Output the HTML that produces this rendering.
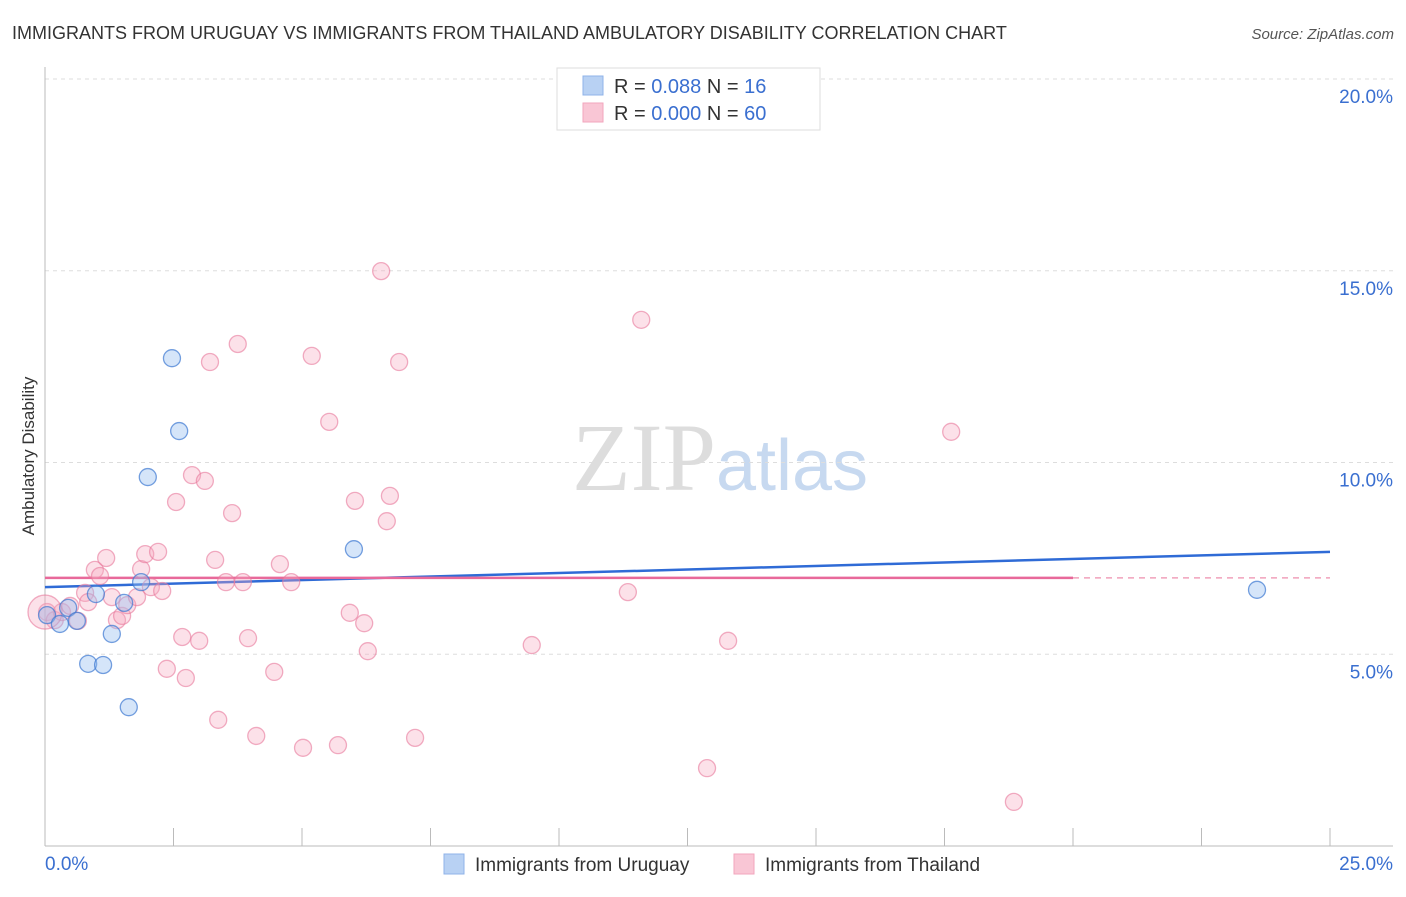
<!DOCTYPE html>
<html><head><meta charset="utf-8"><style>
body{margin:0;background:#fff;font-family:"Liberation Sans",sans-serif}
</style></head><body>
<svg id="chart" width="1406" height="892" xmlns="http://www.w3.org/2000/svg" font-family="Liberation Sans, sans-serif">
<text x="12" y="39" font-size="18" fill="#333">IMMIGRANTS FROM URUGUAY VS IMMIGRANTS FROM THAILAND AMBULATORY DISABILITY CORRELATION CHART</text>
<text x="1394" y="39" font-size="15" fill="#555" font-style="italic" text-anchor="end">Source: ZipAtlas.com</text>
<text transform="translate(34,456) rotate(-90)" font-size="17" fill="#333" text-anchor="middle">Ambulatory Disability</text>
<text x="720" y="490" font-size="96" text-anchor="middle"><tspan fill="#ddd" font-family="Liberation Serif, serif">ZIP</tspan><tspan fill="#c7d9f0" font-size="72">atlas</tspan></text>
<g id="grid"></g><g id="axes"></g><g id="lines"></g><g id="points"></g>
<g>
<rect x="557" y="68" width="263" height="62" fill="#fff" stroke="#ddd"/>
<rect x="583" y="76" width="20" height="19" fill="#b8d1f3" stroke="#8fb3e8"/>
<rect x="583" y="103" width="20" height="19" fill="#f9c6d5" stroke="#f2a6bd"/>
<text x="614" y="93" font-size="20" fill="#333">R = <tspan fill="#3a6fd0"> 0.088</tspan>   N = <tspan fill="#3a6fd0"> 16</tspan></text>
<text x="614" y="120" font-size="20" fill="#333">R = <tspan fill="#3a6fd0">0.000</tspan>   N = <tspan fill="#3a6fd0">60</tspan></text>
</g>
<g>
<rect x="444" y="854" width="20" height="20" fill="#b8d1f3" stroke="#8fb3e8"/>
<text x="475" y="871" font-size="19" fill="#333">Immigrants from Uruguay</text>
<rect x="734" y="854" width="20" height="20" fill="#f9c6d5" stroke="#f2a6bd"/>
<text x="765" y="871" font-size="19" fill="#333">Immigrants from Thailand</text>
</g>
</svg>
<script>
const yTicks=[5,10,15,20];
const yTickLabels=["5.0%","10.0%","15.0%","20.0%"];
const xTicks=[0,2.5,5,7.5,10,12.5,15,17.5,20,22.5,25];
const uruguayX=[0.04,0.29,0.45,0.62,0.99,1.30,0.84,1.13,1.63,1.54,1.87,2.47,2.61,2.00,6.01,23.58];
const uruguayY=[6.02,5.79,6.21,5.87,6.57,5.53,4.75,4.72,3.62,6.34,6.88,12.72,10.82,9.62,7.74,6.68];
const thailandX=[0.04,0.19,0.33,0.49,0.64,0.78,0.84,0.97,1.07,1.19,1.30,1.40,1.50,1.60,1.79,1.87,1.95,2.06,2.20,2.28,2.37,2.55,2.74,2.67,2.86,3.00,3.11,3.31,3.37,3.52,3.64,3.75,3.85,3.95,4.11,4.46,4.57,4.79,5.02,5.19,5.53,5.70,5.93,6.03,6.21,6.28,6.54,6.65,6.71,6.89,7.20,3.21,9.47,11.34,11.60,12.88,13.29,17.63,18.85,0.0];
const thailandY=[6.10,5.89,6.10,6.26,5.87,6.60,6.36,7.20,7.04,7.51,6.49,5.89,6.00,6.28,6.49,7.22,7.61,6.75,7.67,6.65,4.62,8.97,4.38,5.45,9.67,5.35,9.52,7.46,3.29,6.88,8.68,13.09,6.88,5.42,2.87,4.54,7.35,6.88,2.56,12.78,11.06,2.63,6.08,9.00,5.81,5.08,14.99,8.47,9.13,12.62,2.82,12.62,5.24,6.62,13.72,2.03,5.35,10.80,1.15,6.10];
const uruguayTrend=[6.75,7.67];
const thailandTrend=[6.99,6.99];
const xs=v=>45+v*51.4, ys=v=>846-v*38.35;
const NS="http://www.w3.org/2000/svg";
function mk(tag,attrs,parent){const e=document.createElementNS(NS,tag);for(const k in attrs)e.setAttribute(k,attrs[k]);document.getElementById(parent).appendChild(e);return e;}
yTicks.forEach((t,i)=>{
 const l=mk('line',{x1:45,x2:1393,y1:ys(t),y2:ys(t),stroke:'#ddd','stroke-dasharray':'4,4'},'grid');
 
 
 const tx=mk('text',{x:1393,y:ys(t)+24,'font-size':19,fill:'#3a6fd0','text-anchor':'end'},'grid');
 tx.textContent=yTickLabels[i];
 
 
});
const ax=mk('line',{x1:45,x2:45,y1:67,y2:846,stroke:'#bbb'},'axes');


const bx=mk('line',{x1:45,x2:1393,y1:846,y2:846,stroke:'#bbb'},'axes');


xTicks.forEach(t=>{
 const k=mk('line',{x1:xs(t),x2:xs(t),y1:828,y2:846,stroke:'#bbb'},'axes');
 
 
});
const x0=mk('text',{x:45,y:870,'font-size':19,fill:'#3a6fd0'},'axes');x0.textContent='0.0%';


const x1=mk('text',{x:1393,y:870,'font-size':19,fill:'#3a6fd0','text-anchor':'end'},'axes');x1.textContent='25.0%';


function dot(x,y,r,fill,stroke,name){const c=mk('circle',{cx:xs(x),cy:ys(y),r:r,fill:fill,stroke:stroke,'stroke-width':1.3},'points');
 
 }
thailandX.forEach((x,i)=>dot(x,thailandY[i],i===59?17:8.5,'rgba(246,168,192,0.35)','rgba(232,120,155,0.6)','thailand-point'));
uruguayX.forEach((x,i)=>dot(x,uruguayY[i],8.5,'rgba(150,190,240,0.4)','rgba(60,120,210,0.7)','uruguay-point'));
const ul=mk('line',{x1:xs(0),x2:xs(25),y1:ys(uruguayTrend[0]),y2:ys(uruguayTrend[1]),stroke:'#2f6bd6','stroke-width':2.5},'lines');


const pl=mk('line',{x1:xs(0),x2:xs(20),y1:ys(thailandTrend[0]),y2:ys(thailandTrend[1]),stroke:'#e8699a','stroke-width':2.5},'lines');


const pd=mk('line',{x1:xs(20),x2:xs(25),y1:ys(thailandTrend[0]),y2:ys(thailandTrend[1]),stroke:'#f0a0bb','stroke-width':1.5,'stroke-dasharray':'6,5'},'lines');


</script>
</body></html>
